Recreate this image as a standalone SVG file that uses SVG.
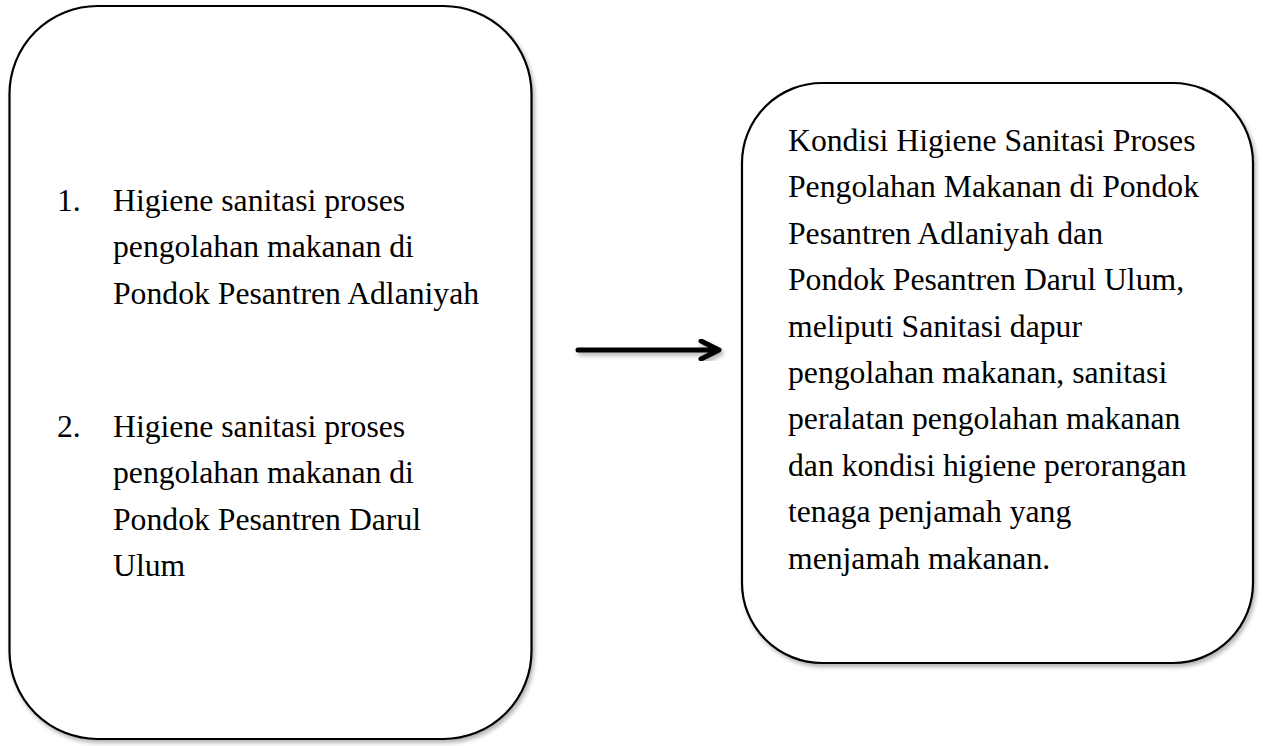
<svg xmlns="http://www.w3.org/2000/svg" width="1263" height="746" viewBox="0 0 1263 746">
<style>
.box{fill:#fff;stroke:#000;stroke-width:2.2;filter:url(#sh)}
.t{font-family:"Liberation Serif","Times New Roman",serif;font-size:31.7px;fill:#000}
.conn{stroke:#000;stroke-width:5;fill:none;stroke-linecap:round;stroke-linejoin:round;filter:url(#sh)}
</style>
<defs>
<filter id="sh" x="-10%" y="-10%" width="120%" height="120%">
<feDropShadow dx="2" dy="3" stdDeviation="2" flood-color="#000" flood-opacity="0.3"/>
</filter>
</defs>
<rect width="1263" height="746" fill="#fff"/>
<g id="node-left">
<rect class="box" x="9.5" y="6" width="522" height="733" rx="88" ry="88"/>
<text class="t" x="57" y="211">1.</text>
<text class="t" x="113" y="211">Higiene sanitasi proses</text>
<text class="t" x="113" y="257.3">pengolahan makanan di</text>
<text class="t" x="113" y="303.6">Pondok Pesantren Adlaniyah</text>
<text class="t" x="57" y="437">2.</text>
<text class="t" x="113" y="437">Higiene sanitasi proses</text>
<text class="t" x="113" y="483.3">pengolahan makanan di</text>
<text class="t" x="113" y="529.6">Pondok Pesantren Darul</text>
<text class="t" x="113" y="576">Ulum</text>
</g>
<g id="node-right">
<rect class="box" x="742" y="83" width="511" height="580" rx="80" ry="80"/>
<text class="t" x="788" y="151">Kondisi Higiene Sanitasi Proses</text>
<text class="t" x="788" y="197.4">Pengolahan Makanan di Pondok</text>
<text class="t" x="788" y="243.8">Pesantren Adlaniyah dan</text>
<text class="t" x="788" y="290.2">Pondok Pesantren Darul Ulum,</text>
<text class="t" x="788" y="336.6">meliputi Sanitasi dapur</text>
<text class="t" x="788" y="383">pengolahan makanan, sanitasi</text>
<text class="t" x="788" y="429.4">peralatan pengolahan makanan</text>
<text class="t" x="788" y="475.8">dan kondisi higiene perorangan</text>
<text class="t" x="788" y="522.2">tenaga penjamah yang</text>
<text class="t" x="788" y="568.6">menjamah makanan.</text>
</g>
<g id="connectors">
<path class="conn" d="M578 350 H717 M701 341 L719 350 L701 359"/>
</g>
</svg>
